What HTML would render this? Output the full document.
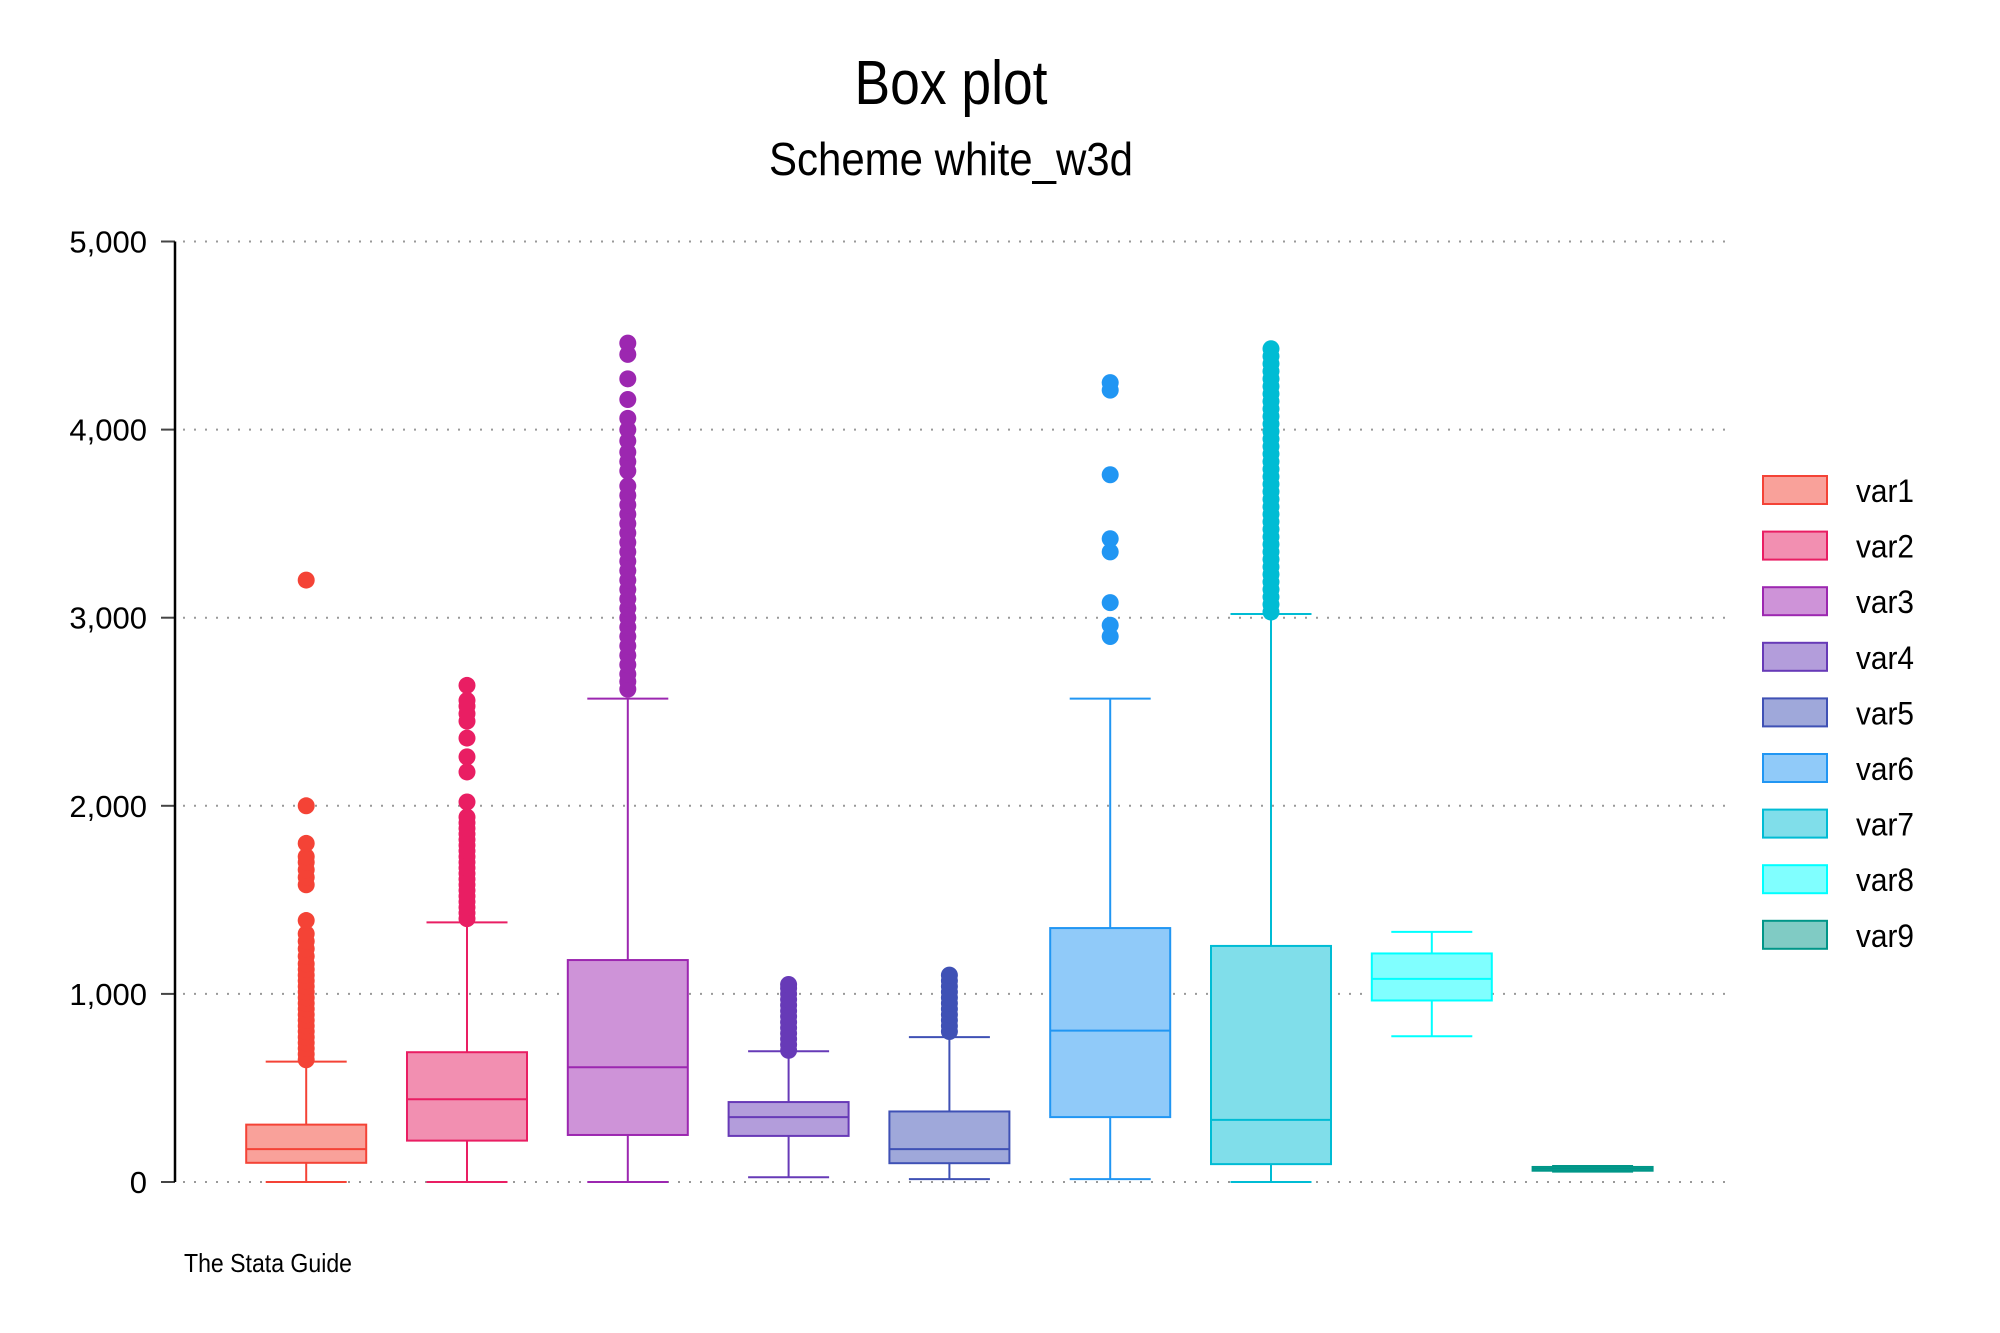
<!DOCTYPE html>
<html><head><meta charset="utf-8"><style>
html,body{margin:0;padding:0;background:#fff;}
svg{display:block;font-family:"Liberation Sans Narrow","Liberation Sans",sans-serif;}
</style></head><body>
<svg id="chart" width="2000" height="1333" viewBox="0 0 2000 1333">
<text x="951" y="104" text-anchor="middle" font-size="62" fill="#000" textLength="193" lengthAdjust="spacingAndGlyphs">Box plot</text>
<text x="951" y="175" text-anchor="middle" font-size="46" fill="#000" textLength="364" lengthAdjust="spacingAndGlyphs">Scheme white_w3d</text>
<text x="184" y="1272" font-size="26" fill="#000" textLength="168" lengthAdjust="spacingAndGlyphs">The Stata Guide</text>
<g id="grid"></g><g id="axis"></g><g id="boxes"></g><g id="legend"></g>
</svg>
<script>
const categories = ["var1","var2","var3","var4","var5","var6","var7","var8","var9"];
const lowWhisker = [0,0,0,25,15,15,0,775,55];
const q1Values = [102,220,250,245,100,345,95,965,60];
const medians = [175,440,610,345,175,805,330,1080,70];
const q3Values = [305,690,1180,425,375,1350,1255,1215,80];
const highWhisker = [640,1380,2570,695,770,2570,3020,1330,85];
const outliers = [
 [650,680,710,740,770,800,830,860,890,920,950,980,1010,1040,1070,1100,1130,1160,1200,1240,1280,1320,1390,1580,1620,1660,1700,1730,1800,2000,3200],
 [1400,1430,1460,1490,1520,1550,1580,1610,1640,1670,1700,1730,1760,1790,1820,1850,1880,1910,1940,2020,2180,2260,2360,2450,2490,2530,2560,2640],
 [2620,2660,2700,2750,2800,2850,2900,2950,3000,3050,3100,3150,3200,3250,3300,3350,3400,3450,3500,3550,3600,3650,3700,3780,3830,3880,3940,4000,4060,4160,4270,4400,4460],
 [700,730,760,790,820,850,880,910,940,970,1000,1030,1050],
 [800,830,860,890,920,950,980,1010,1040,1070,1100],
 [2900,2960,3080,3350,3420,3760,4210,4250],
 [3030,3070,3110,3150,3190,3230,3270,3310,3350,3390,3430,3470,3510,3550,3590,3630,3670,3710,3750,3790,3830,3870,3910,3950,3990,4030,4070,4110,4150,4190,4230,4270,4310,4350,4390,4430],
 [],[]
];
const strokes = ["#f44336","#e91e63","#9c27b0","#673ab7","#3f51b5","#2196f3","#00bcd4","#00ffff","#009688"];
const fills = ["#f9a19a","#f28fb1","#ce93d8","#b39ddb","#9fa8da","#90caf9","#80deea","#80ffff","#80cbc4"];
const yTicks = [0,1000,2000,3000,4000,5000];
const yTickLabels = ["0","1,000","2,000","3,000","4,000","5,000"];

const NS="http://www.w3.org/2000/svg";
const y0=1182, y1=241.5, yMax=5000;
const yScale = v => y0 - v/yMax*(y0-y1);
const xScale = i => 306.2 + i*160.8;
function mk(tag, attrs, parent){const e=document.createElementNS(NS,tag);for(const k in attrs)e.setAttribute(k,attrs[k]);parent.appendChild(e);return e;}
const grid=document.getElementById('grid'), axis=document.getElementById('axis'), boxes=document.getElementById('boxes'), legend=document.getElementById('legend');

yTicks.forEach((t,i)=>{
  const g=mk('line',{x1:183,x2:1725,y1:yScale(t),y2:yScale(t),stroke:'#999','stroke-width':2,'stroke-dasharray':'2 9'},grid);
  
  
  const tk=mk('line',{x1:161,x2:175,y1:yScale(t),y2:yScale(t),stroke:'#444','stroke-width':2},axis);
  
  
  const lb=mk('text',{x:147,y:yScale(t)+11,'text-anchor':'end','font-size':31,fill:'#000'},axis);
  lb.textContent=yTickLabels[i];
  
  
});
const ax=mk('line',{x1:175,x2:175,y1:y1,y2:y0,stroke:'#000','stroke-width':2.5},axis);



categories.forEach((c,i)=>{
  const g=mk('g',{},boxes);
  
  
  const cx=xScale(i), bw=120, cw=81, s=strokes[i];
  mk('line',{x1:cx,x2:cx,y1:yScale(q3Values[i]),y2:yScale(highWhisker[i]),stroke:s,'stroke-width':2},g);
  mk('line',{x1:cx,x2:cx,y1:yScale(q1Values[i]),y2:yScale(lowWhisker[i]),stroke:s,'stroke-width':2},g);
  mk('line',{x1:cx-cw/2,x2:cx+cw/2,y1:yScale(highWhisker[i]),y2:yScale(highWhisker[i]),stroke:s,'stroke-width':2},g);
  mk('line',{x1:cx-cw/2,x2:cx+cw/2,y1:yScale(lowWhisker[i]),y2:yScale(lowWhisker[i]),stroke:s,'stroke-width':2},g);
  mk('rect',{x:cx-bw/2,y:yScale(q3Values[i]),width:bw,height:Math.max(1,yScale(q1Values[i])-yScale(q3Values[i])),fill:fills[i],stroke:s,'stroke-width':2},g);
  mk('line',{x1:cx-bw/2,x2:cx+bw/2,y1:yScale(medians[i]),y2:yScale(medians[i]),stroke:s,'stroke-width':2},g);
  outliers[i].forEach(v=>{
    const d=mk('circle',{cx:cx,cy:yScale(v),r:8.5,fill:s},g);
    
    
  });
  const ly=490+i*55.6;
  const le=mk('g',{},legend);
  
  
  mk('rect',{x:1763,y:ly-14,width:64,height:28,fill:fills[i],stroke:s,'stroke-width':2},le);
  const lt=mk('text',{x:1856,y:ly+12,'font-size':32,fill:'#000',textLength:58,lengthAdjust:'spacingAndGlyphs'},le);
  lt.textContent=c;
});
</script>
</body></html>
